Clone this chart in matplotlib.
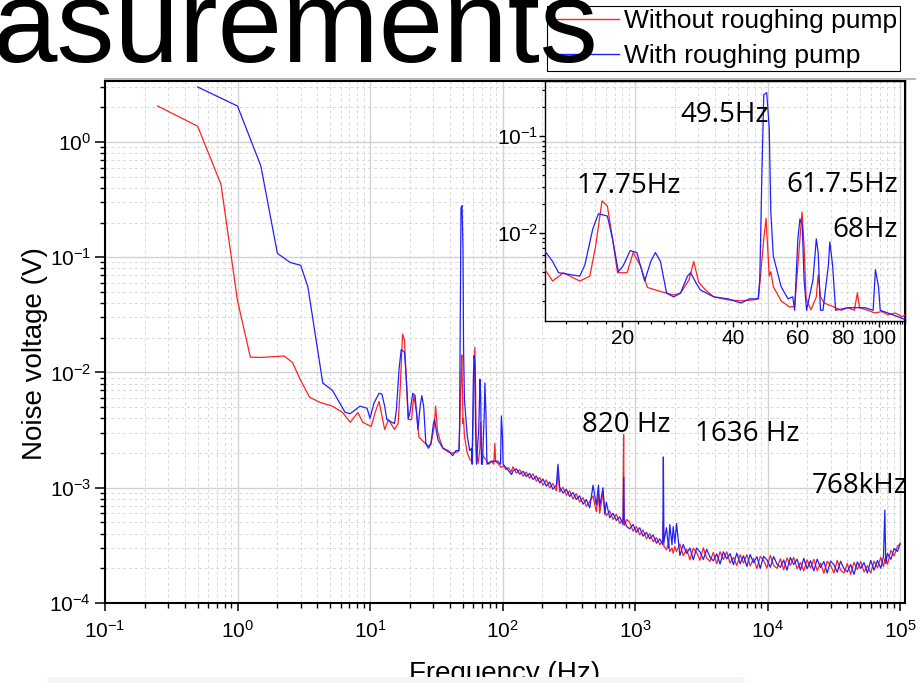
import matplotlib
matplotlib.use('Agg')
import matplotlib.pyplot as plt
from matplotlib.ticker import LogLocator, FixedLocator, NullFormatter
from matplotlib.lines import Line2D
from matplotlib.patches import Rectangle
import numpy as np

plt.rcParams['font.family'] = ['Liberation Sans', 'DejaVu Sans']
plt.rcParams['mathtext.fontset'] = 'custom'
plt.rcParams['mathtext.rm'] = 'Liberation Sans'
plt.rcParams['mathtext.it'] = 'Liberation Sans:italic'
plt.rcParams['mathtext.bf'] = 'Liberation Sans:bold'

red_f_low = [0.25, 0.5, 0.75, 1.0, 1.25, 1.5, 2.25, 2.6, 3.0, 3.5,
             4.2, 5.2, 6.2, 7.1, 8.1, 8.8, 10.2, 11.0, 11.7, 12.3,
             12.9, 13.8, 15.3, 16.3, 16.9, 17.6, 18.2, 18.8, 19.4, 20.6,
             21.4, 22.4, 23.4, 25.4, 27.6, 28.8, 30.4, 31.3, 32.3, 33.7,
             35.5, 38.8, 42.1, 45.7, 47.0, 48.6, 49.3, 49.9, 50.3, 50.8,
             51.6, 54.2, 57.0, 59.0, 60.2, 61.8, 62.6, 63.4, 65.4, 67.6,
             68.4, 69.4, 71.1, 75.2, 79.1, 82.4, 85.9, 87.5, 88.7, 93.4,
             97.5, 102, 106, 111, 116]
red_v_low = [2.05, 1.37, 0.43, 0.042, 0.0136, 0.0135, 0.0139, 0.0122, 0.0085, 0.0061,
             0.0055, 0.0051, 0.0045, 0.0037, 0.0045, 0.0037, 0.0034, 0.0046, 0.0056, 0.0042,
             0.0032, 0.0039, 0.0032, 0.0036, 0.0073, 0.0215, 0.019, 0.0087, 0.0039, 0.0039,
             0.0063, 0.0046, 0.00275, 0.0025, 0.0023, 0.0024, 0.0033, 0.0051, 0.0031, 0.0026,
             0.0022, 0.00205, 0.0020, 0.00205, 0.0021, 0.0087, 0.0142, 0.0063, 0.0036, 0.0040,
             0.0028, 0.0020, 0.00174, 0.00174, 0.0046, 0.0165, 0.0073, 0.0021, 0.00162, 0.0022,
             0.0037, 0.0022, 0.0019, 0.00174, 0.0016, 0.0017, 0.0016, 0.00243, 0.0017, 0.0016,
             0.0015, 0.00155, 0.00144, 0.0015, 0.00137]

blue_f_low = [0.5, 1.0, 1.5, 2.0, 2.5, 3.0, 3.4, 4.4, 5.2, 6.5,
              7.1, 8.4, 9.5, 10.0, 10.7, 11.7, 12.3, 12.9, 13.4, 15.3,
              15.8, 16.6, 17.2, 18.2, 18.8, 19.5, 20.1, 21.0, 21.9, 22.4,
              23.0, 23.9, 24.6, 25.4, 26.4, 27.6, 28.8, 30.1, 30.7, 31.7,
              32.6, 35.5, 38.8, 42.1, 44.5, 46.9, 47.4, 48.0, 48.6, 49.5,
              50.3, 50.8, 51.6, 54.2, 56.6, 58.3, 59.0, 60.2, 61.0, 61.9,
              62.6, 63.6, 66.2, 67.6, 68.4, 69.4, 70.5, 72.9, 73.6, 74.9,
              76.3, 82.4, 87.6, 91.9, 96.6, 98.0, 99.9, 101, 106, 113,
              117]
blue_v_low = [3.0, 2.05, 0.62, 0.108, 0.09, 0.085, 0.055, 0.0081, 0.0070, 0.0045,
              0.0044, 0.0051, 0.0049, 0.0040, 0.0054, 0.0066, 0.0065, 0.0051, 0.0039, 0.0036,
              0.0047, 0.011, 0.0158, 0.015, 0.0087, 0.0040, 0.0046, 0.0066, 0.0063, 0.0046,
              0.0032, 0.0051, 0.0063, 0.0051, 0.0024, 0.0022, 0.0024, 0.0036, 0.0039, 0.0031,
              0.0026, 0.0022, 0.0021, 0.0019, 0.0021, 0.0021, 0.0033, 0.036, 0.267, 0.28,
              0.121, 0.0165, 0.0058, 0.0028, 0.0021, 0.0022, 0.0016, 0.0087, 0.014, 0.012,
              0.0033, 0.0016, 0.0033, 0.0087, 0.0063, 0.0016, 0.0016, 0.0046, 0.0081, 0.0046,
              0.0016, 0.0017, 0.0017, 0.0017, 0.0016, 0.0042, 0.0028, 0.0016, 0.0015, 0.00137,
              0.0013]

# high frequency part, shared frequency grid (Hz), values in 1e-4 V
f_hi = [120, 127, 135, 143, 151, 160, 170, 180, 191, 202,
        214, 227, 240, 255, 262, 270, 286, 303, 321, 340,
        360, 382, 405, 429, 455, 482, 510, 530, 541, 573,
        590, 607, 644, 682, 723, 766, 812, 820, 828, 866,
        912, 966, 1024, 1085, 1150, 1219, 1292, 1369, 1451, 1538,
        1620, 1636, 1652, 1728, 1790, 1831, 1900, 1941, 2000, 2057,
        2180, 2311, 2449, 2596, 2751, 2916, 3091, 3276, 3472, 3680,
        3900, 4134, 4382, 4644, 4922, 5217, 5530, 5861, 6212, 6584,
        6979, 7397, 7840, 8310, 8808, 9336, 9895, 10490, 11120, 11780,
        12490, 13240, 14030, 14870, 15760, 16710, 17710, 18770, 19890, 21080,
        22350, 23690, 25100, 26610, 28200, 29890, 31680, 33580, 35590, 37730,
        39990, 42380, 44920, 47610, 50470, 53490, 56690, 60090, 63690, 67510,
        71550, 75000, 76800, 78000, 80380, 85200, 90300, 95710, 100000]
red_hi = [15.2, 13.4, 14.3, 12.6, 13.7, 12.1, 13.2, 11.4, 12.3, 10.5,
          11.7, 10.0, 10.9, 9.4, 14.0, 9.2, 10.1, 8.6, 9.4, 8.0,
          8.9, 7.5, 8.2, 6.9, 7.6, 8.5, 6.2, 8.8, 6.0, 9.0,
          6.6, 5.7, 6.3, 5.3, 5.9, 4.9, 5.4, 29.0, 4.7, 5.3,
          5.0, 4.2, 4.6, 3.9, 4.3, 3.6, 4.0, 3.4, 3.7, 3.2,
          3.5, 5.0, 3.1, 2.9, 3.3, 2.8, 3.0, 2.7, 3.1, 2.8,
          3.25, 2.57, 2.94, 2.37, 2.99, 2.75, 2.35, 3.01, 2.45, 2.30,
          2.75, 2.19, 2.78, 2.38, 2.78, 2.22, 2.49, 2.11, 2.62, 2.22,
          2.62, 2.10, 2.44, 1.99, 2.53, 2.34, 2.01, 2.59, 2.12, 2.00,
          2.42, 1.94, 2.46, 2.12, 2.49, 1.98, 2.24, 1.90, 2.37, 2.01,
          2.39, 1.91, 2.22, 1.81, 2.30, 2.12, 1.82, 2.35, 1.93, 1.82,
          2.20, 1.77, 2.25, 1.95, 2.29, 1.86, 2.11, 1.82, 2.31, 2.02,
          2.49, 2.07, 2.4, 2.49, 2.16, 2.86, 2.56, 3.13, 3.2]
blue_hi = [14.0, 14.6, 13.1, 13.9, 12.5, 13.3, 11.8, 12.6, 11.0, 11.9,
           10.3, 11.2, 9.7, 10.5, 16.0, 10.1, 9.0, 9.7, 8.4, 9.1,
           7.9, 8.5, 7.2, 7.9, 6.7, 10.5, 7.1, 10.5, 6.9, 10.0,
           5.9, 7.5, 5.5, 6.0, 5.2, 5.6, 4.8, 12.4, 5.3, 4.6,
           4.4, 4.8, 4.1, 4.5, 3.8, 4.1, 3.6, 3.9, 3.3, 3.6,
           3.2, 18.5, 3.4, 4.5, 3.0, 4.8, 3.2, 4.6, 3.3, 4.9,
           2.58, 3.22, 2.69, 3.00, 2.37, 3.00, 2.78, 2.38, 2.92, 2.50,
           2.32, 2.67, 2.18, 2.78, 2.41, 2.68, 2.15, 2.71, 2.19, 2.57,
           2.08, 2.63, 2.23, 2.52, 2.00, 2.54, 2.37, 2.04, 2.53, 2.18,
           2.04, 2.36, 1.93, 2.48, 2.16, 2.40, 1.93, 2.44, 1.98, 2.33,
           1.90, 2.40, 2.03, 2.29, 1.82, 2.31, 2.15, 1.85, 2.30, 1.99,
           1.86, 2.16, 1.77, 2.27, 1.99, 2.24, 1.82, 2.34, 1.93, 2.34,
           2.00, 2.53, 6.4, 2.20, 2.70, 2.39, 2.97, 2.80, 3.3]

labels = ['Without roughing pump', 'With roughing pump']
peak_notes = ['49.5Hz', '17.75Hz', '61.7.5Hz', '68Hz', '820 Hz', '1636 Hz', '768kHz']

red_f = np.array(red_f_low + f_hi, dtype=float)
red_v = np.array(red_v_low + [v * 1e-4 for v in red_hi])
blue_f = np.array(blue_f_low + f_hi, dtype=float)
blue_v = np.array(blue_v_low + [v * 1e-4 for v in blue_hi])

RED = '#ff2020'
BLUE = '#2020ff'

W, H = 924, 683
fig = plt.figure(figsize=(W / 100, H / 100), dpi=100)


def box(l, t, r, b):
    return [l / W, 1 - b / H, (r - l) / W, (b - t) / H]


# ---- main axes
ax = fig.add_axes(box(105, 81, 905, 603))
ax.set_xscale('log')
ax.set_yscale('log')
ax.plot(red_f, red_v, color=RED, lw=0.9, zorder=3)
ax.plot(blue_f, blue_v, color=BLUE, lw=0.9, zorder=4)
ax.set_xlim(0.1, 1.09e5)
ax.set_ylim(1e-4, 3.38)
for a in (ax.xaxis, ax.yaxis):
    a.set_major_locator(LogLocator(base=10, numticks=20))
    a.set_minor_locator(LogLocator(base=10, subs=np.arange(2, 10), numticks=20))
    a.set_minor_formatter(NullFormatter())
ax.grid(which='major', color='#d2d2d2', lw=1.0, ls='-')
ax.grid(which='minor', color='#d8d8d8', lw=0.7, ls=(0, (3, 3)))
ax.set_axisbelow(True)
ax.tick_params(which='major', direction='out', length=6, width=1.1, labelsize=15,
               top=False, right=False)
ax.tick_params(which='minor', direction='out', length=3.5, width=1.0,
               top=False, right=False)
ax.tick_params(axis='y', which='major', length=7, pad=3)
ax.tick_params(axis='x', which='major', pad=6)
for s in ax.spines.values():
    s.set_linewidth(1.5)
ax.set_ylabel('Noise voltage (V)', fontsize=20)
ax.yaxis.set_label_coords(-0.071, 0.477)
ax.set_xlabel('Frequency (Hz)', fontsize=20)
ax.xaxis.set_label_coords(0.5, -0.111)

# ---- inset (transparent, main grid shows through)
axi = fig.add_axes(box(545, 81, 905, 321))
axi.set_facecolor('none')
axi.set_xscale('log')
axi.set_yscale('log')
axi.plot(red_f, red_v, color=RED, lw=0.9, zorder=3)
axi.plot(blue_f, blue_v, color=BLUE, lw=0.9, zorder=4)
axi.set_xlim(12.3, 118)
axi.set_ylim(1.24e-3, 0.37)
axi.xaxis.set_major_locator(FixedLocator([20, 40, 60, 80, 100]))
axi.xaxis.set_minor_locator(FixedLocator(np.arange(12, 119, 2)))
axi.set_xticklabels(['20', '40', '60', '80', '100'])
axi.xaxis.set_minor_formatter(NullFormatter())
axi.yaxis.set_major_locator(LogLocator(base=10, numticks=10))
axi.yaxis.set_minor_locator(LogLocator(base=10, subs=np.arange(2, 10), numticks=10))
axi.yaxis.set_minor_formatter(NullFormatter())
axi.tick_params(which='major', direction='out', length=4, width=1.0, labelsize=15,
                top=False, right=False)
axi.tick_params(which='minor', direction='out', length=2.5, width=0.9,
                top=False, right=False)
axi.tick_params(axis='y', which='major', pad=1)
axi.tick_params(axis='x', which='major', pad=2)
for s in axi.spines.values():
    s.set_linewidth(1.0)

# ---- peak annotations (pixel positions of left/baseline)
note_pos = [(680, 122), (576, 193), (786, 192), (832, 237),
            (582, 432), (695, 441), (812, 493)]
for txt, (px, py) in zip(peak_notes, note_pos):
    fig.text(px / W, 1 - py / H, txt, fontsize=20, family=['Open Sans', 'DejaVu Sans'],
             ha='left', va='baseline', zorder=6)

# ---- slide leftovers: cut title, rule line, bottom band
fig.text(-8 / W, 1 - 62 / H, 'asurements', fontsize=83.5, ha='left', va='baseline',
         zorder=10)
fig.add_artist(Line2D([105 / W, 915 / W], [1 - 78.5 / H, 1 - 78.5 / H],
                      transform=fig.transFigure, color='#a8a8a8', lw=1.2, zorder=1))
fig.add_artist(Rectangle((47 / W, 0), (745 - 47) / W, 6 / H, transform=fig.transFigure,
                         facecolor='#f2f7f4', edgecolor='none', zorder=10))

# ---- legend
handles = [Line2D([], [], color=RED, lw=1.0), Line2D([], [], color=BLUE, lw=1.0)]
leg = fig.legend(handles, labels, loc='upper left',
                 bbox_to_anchor=(547 / W, 1 - 6 / H), bbox_transform=fig.transFigure,
                 frameon=True, fancybox=False, edgecolor='black', framealpha=1,
                 borderpad=0.12, labelspacing=0.42, handlelength=2.6,
                 handletextpad=0.2, borderaxespad=0, fontsize=19)
leg.get_frame().set_linewidth(0.8)
leg.set_zorder(5)

fig.savefig('out.png', dpi=100)
